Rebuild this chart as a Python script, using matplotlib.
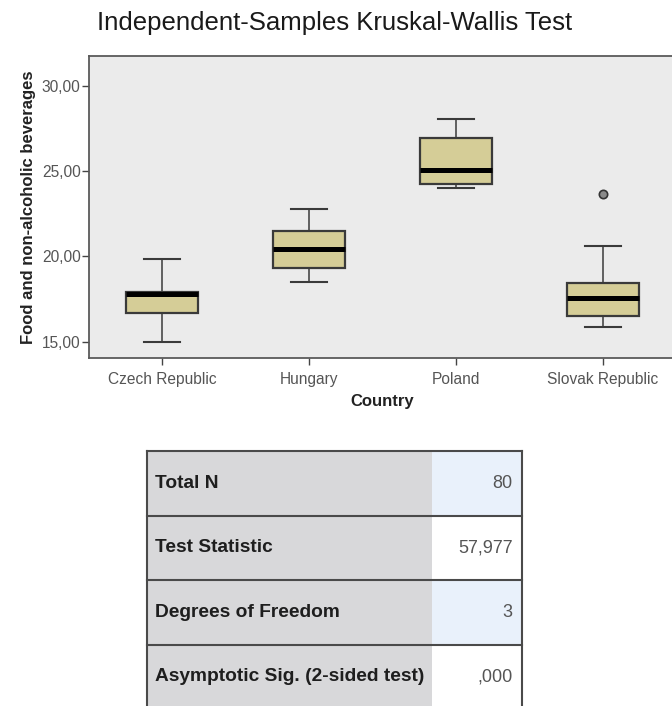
import matplotlib
matplotlib.use('Agg')
import matplotlib.pyplot as plt
from matplotlib.patches import Rectangle

plt.rcParams['font.family'] = ['Liberation Sans', 'DejaVu Sans']

# 数据：箱线图统计量
countries = ['Czech Republic', 'Hungary', 'Poland', 'Slovak Republic']
whis_lo = [14.98, 18.48, 24.03, 15.85]
q1 = [16.67, 19.34, 24.24, 16.51]
medians = [17.80, 20.43, 25.06, 17.54]
q3 = [17.93, 21.49, 26.92, 18.46]
whis_hi = [19.83, 22.76, 28.07, 20.61]
outliers = [[], [], [], [23.65]]
y_ticks = [15, 20, 25, 30]

# 检验结果表
table_labels = ['Total N', 'Test Statistic', 'Degrees of Freedom',
                'Asymptotic Sig. (2-sided test)']
table_values = ['80', '57,977', '3', ',000']

W, H = 672, 706
fig = plt.figure(figsize=(W / 100, H / 100), dpi=100)
fig.patch.set_facecolor('white')

# ── 箱线图 ──
ax = fig.add_axes([89 / W, (H - 358) / H, 587 / W, 302 / H])
ax.set_facecolor('#ebebeb')

stats = []
for i, name in enumerate(countries):
    stats.append({'label': name, 'whislo': whis_lo[i], 'q1': q1[i],
                  'med': medians[i], 'q3': q3[i], 'whishi': whis_hi[i],
                  'fliers': outliers[i]})

ax.bxp(stats, positions=range(len(countries)), widths=0.49,
       patch_artist=True, showfliers=True,
       boxprops=dict(facecolor='#d5cd97', edgecolor='#3a3a3a', linewidth=1.6),
       medianprops=dict(color='black', linewidth=3.6, solid_capstyle='butt'),
       whiskerprops=dict(color='#3a3a3a', linewidth=1.1),
       capprops=dict(color='#3a3a3a', linewidth=1.5),
       capwidths=0.245,
       flierprops=dict(marker='o', markersize=6, markerfacecolor='#8a8a8a',
                       markeredgecolor='#333333', markeredgewidth=1.2))

ax.set_xlim(-0.5, len(countries) - 0.5)
ax.set_ylim(14.05, 31.74)
ax.set_yticks(y_ticks)
ax.set_yticklabels([f'{v:.2f}'.replace('.', ',') for v in y_ticks])
ax.set_xticks(range(len(countries)))
ax.set_xticklabels(countries)

for s in ax.spines.values():
    s.set_color('#5a5a5a')
    s.set_linewidth(1.3)
ax.tick_params(axis='both', colors='#444444', labelcolor='#555555',
               labelsize=11.2, length=5, width=1)
ax.tick_params(axis='x', pad=5)
ax.tick_params(axis='y', pad=1)

ax.set_xlabel('Country', fontsize=12, fontweight='bold', color='#222222',
              labelpad=5)
ax.set_ylabel('Food and non-alcoholic beverages', fontsize=12,
              fontweight='bold', color='#222222', labelpad=4)

fig.text(334.5 / W, 1 - 23 / H, 'Independent-Samples Kruskal-Wallis Test',
         ha='center', va='center', fontsize=18.5, color='#1a1a1a')

# ── 结果表 ──
tab_top, tab_left, tab_right = 451, 147, 522
row_h = 64.5
tax = fig.add_axes([tab_left / W, 0, (tab_right - tab_left) / W,
                    (H - tab_top) / H])
n_vis = (H - tab_top) / row_h
tax.set_xlim(0, 1)
tax.set_ylim(n_vis, 0)
tax.axis('off')

split = (432 - tab_left) / (tab_right - tab_left)
right_colors = ['#e9f1fb', '#ffffff', '#e9f1fb', '#ffffff']
for i, (lab, val) in enumerate(zip(table_labels, table_values)):
    tax.add_patch(Rectangle((0, i), split, 1, facecolor='#d8d8da',
                            edgecolor='none'))
    tax.add_patch(Rectangle((split, i), 1 - split, 1,
                            facecolor=right_colors[i], edgecolor='none'))
    tax.text(0.022, i + 0.5, lab, ha='left', va='center', fontsize=13.8,
             fontweight='bold', color='#1e1e1e')
    tax.text(0.975, i + 0.5, val, ha='right', va='center', fontsize=13,
             color='#555555')
    tax.plot([0, 1], [i, i], color='#4a4a4a', lw=1.5, clip_on=False)

tax.plot([0, 0], [0, n_vis], color='#4a4a4a', lw=1.5, clip_on=False)
tax.plot([1, 1], [0, n_vis], color='#4a4a4a', lw=1.5, clip_on=False)

fig.savefig('out.png', dpi=100)
